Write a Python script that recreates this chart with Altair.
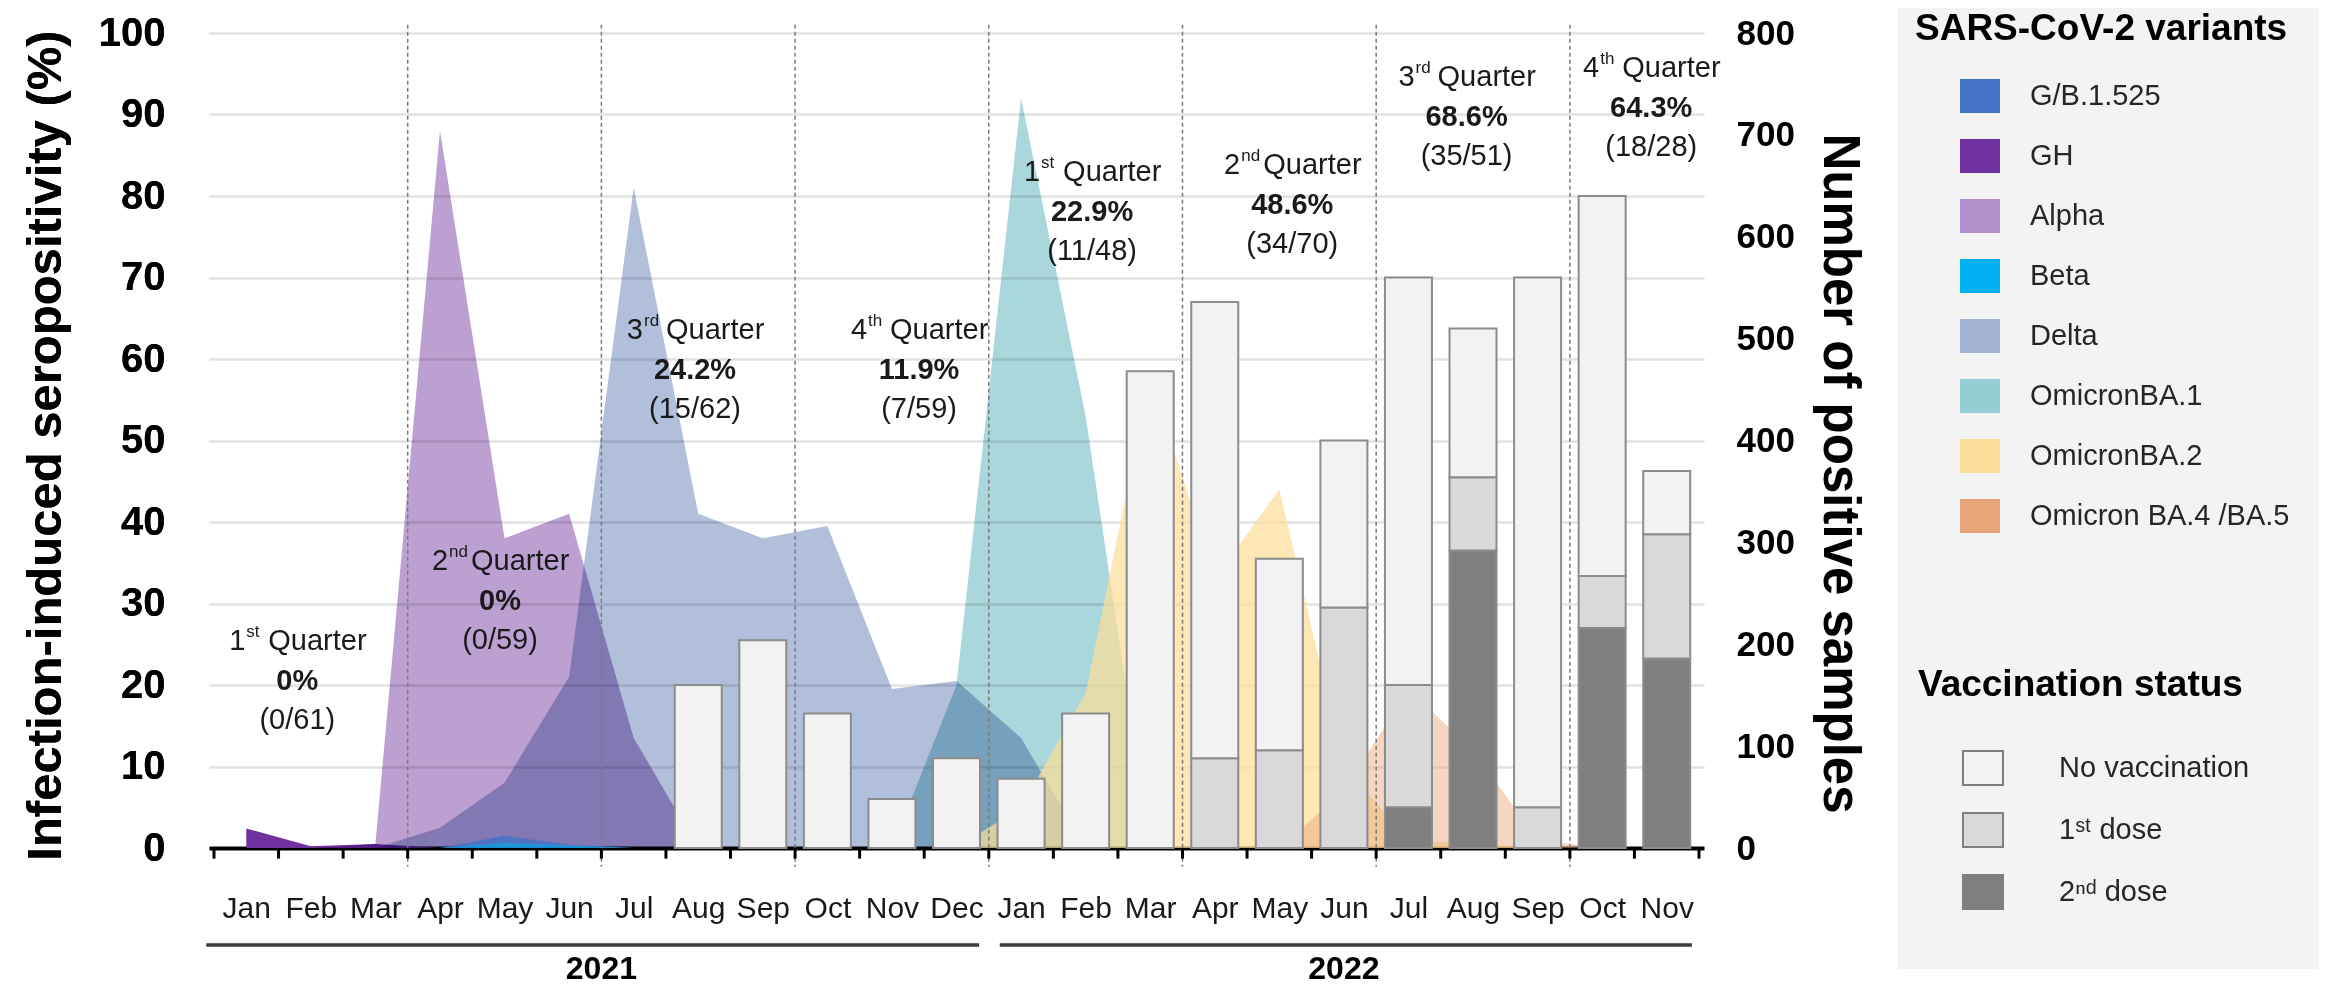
import altair as alt
import pandas as pd

# ---------------- data ----------------
months = ["Jan", "Feb", "Mar", "Apr", "May", "Jun", "Jul", "Aug", "Sep", "Oct", "Nov", "Dec",
          "Jan", "Feb", "Mar", "Apr", "May", "Jun", "Jul", "Aug", "Sep", "Oct", "Nov"]

variants = ["G/B.1.525", "GH", "Alpha", "Beta", "Delta",
            "OmicronBA.1", "OmicronBA.2", "Omicron BA.4 /BA.5"]
variant_colors = ["#4472c4", "#7030a0", "#b08fca", "#00b0f0", "#a3b4d5",
                  "#94cdd3", "#fbde98", "#e8a577"]

# variant curves: first month index, then monthly values (left-axis units)
gb_start, gb_vals = 3, [0, 1.5, 0.4, 0]
gh_start, gh_vals = 0, [2.4, 0.2, 0.5, 0]
alpha_start, alpha_vals = 1, [0, 0.5, 88, 38, 41, 13.5, 0]
beta_start, beta_vals = 3, [0, 0.6, 0.3, 0]
delta_start, delta_vals = 2, [0, 2.5, 8, 21, 81, 41, 38, 39.5, 19.5, 20.5, 13.5, 0]
ba1_start, ba1_vals = 10, [0, 20, 92, 53, 0]
ba2_start, ba2_vals = 11, [0, 5, 19, 58, 33, 44, 10, 1, 0.5, 0]
ba45_start, ba45_vals = 16, [0, 7, 19.5, 12, 1, 0]

series = [(gb_start, gb_vals), (gh_start, gh_vals), (alpha_start, alpha_vals),
          (beta_start, beta_vals), (delta_start, delta_vals), (ba1_start, ba1_vals),
          (ba2_start, ba2_vals), (ba45_start, ba45_vals)]

# vaccination bars (number of positive samples), months Aug 2021 .. Nov 2022
bar_start = 7
no_vacc = [160, 204, 132, 48, 88, 68, 132, 468, 448, 188, 164, 400, 146, 520, 373, 62]
first_dose = [0, 0, 0, 0, 0, 0, 0, 0, 88, 96, 236, 120, 72, 40, 51, 122]
second_dose = [0, 0, 0, 0, 0, 0, 0, 0, 0, 0, 0, 40, 292, 0, 216, 186]
status = ["No vaccination", "1st dose", "2nd dose"]
status_colors = ["#f2f2f2", "#d9d9d9", "#7f7f7f"]

# quarter annotations
q_num = ["1", "2", "3", "4", "1", "2", "3", "4"]
q_sup = ["st", "nd", "rd", "th", "st", "nd", "rd", "th"]
q_pct = ["0%", "0%", "24.2%", "11.9%", "22.9%", "48.6%", "68.6%", "64.3%"]
q_frac = ["(0/61)", "(0/59)", "(15/62)", "(7/59)", "(11/48)", "(34/70)", "(35/51)", "(18/28)"]
q_x = [0.79, 3.93, 6.95, 10.42, 13.1, 16.2, 18.9, 21.76]
q_y = [25.4, 35.2, 63.6, 63.6, 82.9, 83.8, 94.6, 95.7]

quarter_bounds = [2.5, 5.5, 8.5, 11.5, 14.5, 17.5, 20.5]
tick_bounds = [i - 0.5 for i in range(24)]
years = ["2021", "2022"]
year_x = [5.5, 17.0]
year_line_start = [-0.62, 11.67]
year_line_end = [11.35, 22.39]

# ---------------- tables ----------------
rows = []
for v, (s, vals) in zip(variants, series):
    for i, val in enumerate(vals):
        rows.append({"idx": s + i, "variant": v, "value": val})
area_df = pd.DataFrame(rows)

brows = []
for i in range(len(no_vacc)):
    for st, arr, o in [("2nd dose", second_dose, 0), ("1st dose", first_dose, 1),
                       ("No vaccination", no_vacc, 2)]:
        if arr[i] > 0:
            brows.append({"idx": bar_start + i, "status": st, "count": arr[i], "ord": o})
bar_df = pd.DataFrame(brows)

q_df = pd.DataFrame({"x": q_x, "y": q_y, "num": q_num, "sup": q_sup,
                     "pct": q_pct, "frac": q_frac})
qb_df = pd.DataFrame({"x": quarter_bounds})
tb_df = pd.DataFrame({"x": tick_bounds})
yr_df = pd.DataFrame({"year": years, "x": year_x, "x0": year_line_start, "x1": year_line_end})

# ---------------- scales / axes ----------------
FONT = "Liberation Sans"
xscale = alt.Scale(domain=[-0.5, 22.5], nice=False, zero=False)
label_expr = "[" + ",".join("'%s'" % m for m in months) + "][datum.value]"
xaxis = alt.Axis(values=list(range(23)), labelExpr=label_expr, ticks=False, tickSize=0,
                 grid=False, domainColor="black", domainWidth=4, labelFontSize=30,
                 labelColor="#1a1a1a", labelPadding=45, title=None, labelFlush=False,
                 labelOverlap=False)
yleft = alt.Scale(domain=[0, 100], nice=False, zero=True)
left_axis = alt.Axis(values=list(range(0, 101, 10)), ticks=False, tickSize=0, domain=False,
                     grid=True, gridColor="#e2e2e2", gridWidth=2, labelFontSize=40,
                     labelFontWeight="bold", labelColor="black", labelPadding=44,
                     title="Infection-induced seropositivity (%)", titleFontSize=49,
                     titleFontWeight="bold", titleColor="black", titleX=-164, titleY=412,
                     titleAngle=270, titleBaseline="middle", titleAlign="center")
yright = alt.Scale(domain=[0, 800], nice=False, zero=True)
right_axis = alt.Axis(orient="right", values=list(range(0, 801, 100)), ticks=False, tickSize=0,
                      domain=False, grid=False, labelFontSize=35, labelFontWeight="bold",
                      labelColor="black", labelPadding=32,
                      title="Number of positive samples", titleFontSize=51,
                      titleFontWeight="bold", titleColor="black", titleX=134, titleY=440,
                      titleAngle=90, titleBaseline="middle", titleAlign="center")

swatch = "M-1,-0.85H1V0.85H-1Z"
legend_var = alt.Legend(title="SARS-CoV-2 variants", orient="none", legendX=1706, legendY=-22,
                        direction="vertical", titleFontSize=37, titleFontWeight="bold",
                        titleColor="black", titleFont=FONT, titlePadding=28, titleLimit=600,
                        labelFontSize=29, labelColor="#262626", labelFont=FONT, labelLimit=500,
                        symbolType=swatch, symbolSize=1600, symbolStrokeWidth=0,
                        symbolOpacity=1, symbolOffset=45, labelOffset=30, rowPadding=23,
                        padding=0)
legend_vac = alt.Legend(title="Vaccination status", orient="none", legendX=1709, legendY=634,
                        direction="vertical", titleFontSize=37, titleFontWeight="bold",
                        titleColor="black", titleFont=FONT, titlePadding=43, titleLimit=600,
                        labelFontSize=29, labelColor="#262626", labelFont=FONT, labelLimit=500,
                        symbolType=swatch, symbolSize=1600, symbolStrokeColor="#7f7f7f",
                        symbolStrokeWidth=2, symbolOpacity=1, symbolOffset=44, labelOffset=55,
                        rowPadding=20, padding=0,
                        labelExpr="datum.label == '1st dose' ? '1ˢᵗ dose' : "
                                  "(datum.label == '2nd dose' ? '2ⁿᵈ dose' : datum.label)")

X = lambda f: alt.X(f, type="quantitative", scale=xscale, axis=xaxis)
YL = lambda f: alt.Y(f, type="quantitative", scale=yleft, axis=left_axis)

# ---------------- layers ----------------
panel = alt.Chart(pd.DataFrame({"a": [0]})).mark_rect(color="#f3f3f3").encode(
    x=alt.value(1689), x2=alt.value(2130), y=alt.value(-25), y2=alt.value(936))

area_style = {
    "G/B.1.525": dict(opacity=0.8),
    "GH": dict(opacity=1.0),
    "Alpha": dict(opacity=0.85, blend="multiply"),
    "Beta": dict(opacity=0.6),
    "Delta": dict(opacity=0.85, blend="multiply"),
    "OmicronBA.1": dict(opacity=0.8, blend="multiply"),
    "OmicronBA.2": dict(opacity=0.72),
    "Omicron BA.4 /BA.5": dict(opacity=0.45),
}
draw_order = ["GH", "Alpha", "Delta", "G/B.1.525", "Beta",
              "OmicronBA.1", "OmicronBA.2", "Omicron BA.4 /BA.5"]

area_layers = []
for v in draw_order:
    st = area_style[v]
    area_layers.append(
        alt.Chart(area_df).transform_filter(alt.datum.variant == v)
        .mark_area(interpolate="linear", **st)
        .encode(x=X("idx"), y=alt.Y("value:Q", stack=None, scale=yleft, axis=left_axis),
                color=alt.Color("variant:N", scale=alt.Scale(domain=variants, range=variant_colors),
                                legend=legend_var))
    )

qlines = alt.Chart(qb_df).mark_rule(color="#7a7a7a", strokeWidth=1.5, strokeDash=[4, 3]).encode(
    x=X("x"), y=alt.datum(101), y2=alt.datum(-2.3))
ticks = alt.Chart(tb_df).mark_rule(color="black", strokeWidth=3).encode(
    x=X("x"), y=alt.datum(0), y2=alt.datum(-1.3))
yr_lines = alt.Chart(yr_df).mark_rule(color="#3a3a3a", strokeWidth=3.5).encode(
    x=X("x0"), x2="x1", y=alt.datum(-11.9))
yr_text = alt.Chart(yr_df).mark_text(fontSize=32, fontWeight="bold", color="black",
                                     baseline="middle").encode(
    x=X("x"), y=alt.datum(-14.9), text="year:N")

tcol = "#1a1a1a"
q_num_l = alt.Chart(q_df).mark_text(align="right", baseline="middle", dx=-52, fontSize=29,
                                    color=tcol).encode(x=X("x"), y=YL("y"), text="num:N")
q_sup_l = alt.Chart(q_df).mark_text(align="left", baseline="middle", dx=-51, dy=-9, fontSize=17,
                                    color=tcol).encode(x=X("x"), y=YL("y"), text="sup:N")
q_word_l = alt.Chart(q_df).mark_text(align="left", baseline="middle", dx=-29, fontSize=29,
                                     color=tcol, text="Quarter").encode(x=X("x"), y=YL("y"))
q_pct_l = alt.Chart(q_df).mark_text(align="center", baseline="middle", dy=40, fontSize=29,
                                    fontWeight="bold", color=tcol).encode(
    x=X("x"), y=YL("y"), text="pct:N")
q_frac_l = alt.Chart(q_df).mark_text(align="center", baseline="middle", dy=79, fontSize=29,
                                     color=tcol).encode(x=X("x"), y=YL("y"), text="frac:N")

bars = alt.Chart(bar_df).mark_bar(size=47, stroke="#8c8c8c", strokeWidth=2).encode(
    x=X("idx"),
    y=alt.Y("count:Q", stack="zero", scale=yright, axis=right_axis),
    fill=alt.Fill("status:N", scale=alt.Scale(domain=status, range=status_colors),
                  legend=legend_vac),
    order=alt.Order("ord:Q", sort="ascending"),
)

left = alt.layer(panel, *area_layers)
right = alt.layer(bars)
top = alt.layer(qlines, ticks, yr_lines, yr_text, q_num_l, q_sup_l, q_word_l, q_pct_l, q_frac_l)

chart = alt.layer(left, right, top).resolve_scale(y="independent").properties(
    width=1495, height=815,
    autosize=alt.AutoSizeParams(type="none"),
    padding={"left": 201, "top": 25, "right": 615, "bottom": 138},
).configure(font=FONT).configure_view(stroke=None)

chart.save("out.html", embed_options={"renderer": "svg", "actions": False})
